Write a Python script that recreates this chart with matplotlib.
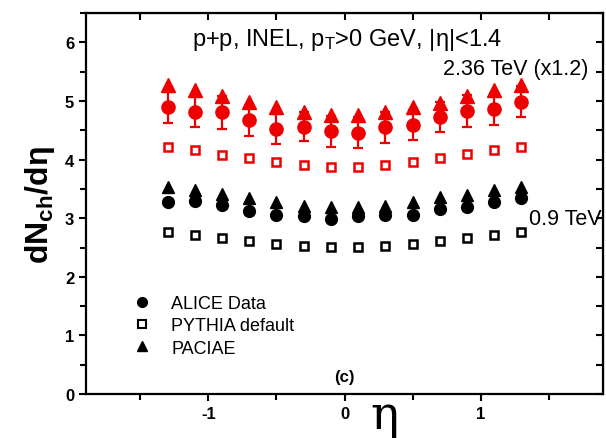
import matplotlib.pyplot as plt
import numpy as np

plt.rcParams['font.family'] = ['Liberation Sans', 'DejaVu Sans']
plt.rcParams['mathtext.default'] = 'regular'
plt.rcParams['axes.unicode_minus'] = False

# pseudorapidity bins
eta = [-1.3, -1.1, -0.9, -0.7, -0.5, -0.3, -0.1, 0.1, 0.3, 0.5, 0.7, 0.9, 1.1, 1.3]

# 2.36 TeV (scaled x1.2)
alice_236 = [4.89, 4.82, 4.81, 4.67, 4.52, 4.56, 4.48, 4.46, 4.55, 4.59, 4.73, 4.83, 4.86, 4.99]
alice_236_err = [0.26, 0.27, 0.28, 0.27, 0.25, 0.25, 0.26, 0.26, 0.26, 0.26, 0.26, 0.27, 0.27, 0.27]
pythia_236 = [4.22, 4.17, 4.08, 4.03, 3.96, 3.91, 3.87, 3.87, 3.91, 3.96, 4.03, 4.10, 4.17, 4.22]
paciae_236 = [5.27, 5.18, 5.09, 4.98, 4.89, 4.81, 4.76, 4.76, 4.82, 4.89, 4.96, 5.08, 5.19, 5.28]

# 0.9 TeV
alice_09 = [3.28, 3.29, 3.23, 3.12, 3.06, 3.03, 2.98, 3.04, 3.05, 3.06, 3.15, 3.20, 3.28, 3.34]
pythia_09 = [2.76, 2.71, 2.66, 2.62, 2.56, 2.53, 2.51, 2.51, 2.53, 2.56, 2.62, 2.66, 2.71, 2.76]
paciae_09 = [3.53, 3.49, 3.42, 3.35, 3.28, 3.21, 3.19, 3.19, 3.21, 3.27, 3.36, 3.40, 3.49, 3.54]

fig = plt.figure(figsize=(6.06, 4.39), dpi=100)
ax = fig.add_axes([0.142, 0.100, 0.853, 0.868])

red = '#ee0000'
# PYTHIA default (open squares)
ax.plot(eta, pythia_236, 's', ls='none', ms=6, mfc='white', mec=red, mew=1.8)
ax.plot(eta, pythia_09, 's', ls='none', ms=6, mfc='white', mec='black', mew=1.8)
# ALICE data
ax.errorbar(eta, alice_236, yerr=alice_236_err, fmt='o', ms=9.5, color=red,
            ecolor=red, elinewidth=1.6, capsize=3.5, capthick=1.6)
ax.plot(eta, alice_09, 'o', ls='none', ms=8.5, color='black')
# PACIAE
ax.plot(eta, paciae_236, '^', ls='none', ms=9.5, color=red)
ax.plot(eta, paciae_09, '^', ls='none', ms=8.5, color='black')

# legend (black symbols)
h1, = ax.plot([], [], 'o', ls='none', ms=7, color='black')
h2, = ax.plot([], [], 's', ls='none', ms=5.5, mfc='white', mec='black', mew=1.5)
h3, = ax.plot([], [], '^', ls='none', ms=7, color='black')
ax.legend([h1, h2, h3], ['ALICE Data', 'PYTHIA default', 'PACIAE'],
          loc='upper left', bbox_to_anchor=(0.06, 0.303), frameon=False,
          fontsize=13, handlelength=1.0, handletextpad=1.1, labelspacing=0.3)

ax.set_xlim(-1.9, 1.9)
ax.set_ylim(0, 6.5)
ax.set_xticks([-1, 0, 1])
ax.set_xticks([-1.5, -0.5, 0.5, 1.5], minor=True)
ax.set_yticks(range(7))
ax.set_yticks(np.arange(0.5, 6.6, 1.0), minor=True)
ax.tick_params(which='both', direction='out', width=1.5, labelsize=12)
ax.tick_params(which='major', length=5)
ax.tick_params(which='minor', length=4)
for lab in ax.get_xticklabels() + ax.get_yticklabels():
    lab.set_fontweight('bold')
for sp in ax.spines.values():
    sp.set_linewidth(1.6)

# inward ticks on the top and right
axt = ax.secondary_xaxis('top')
axt.set_xticks(np.arange(-1.5, 1.6, 0.5))
axt.tick_params(direction='in', length=5, width=1.5, labeltop=False)
axr = ax.secondary_yaxis('right')
axr.set_yticks(np.arange(0, 6.6, 0.5))
axr.tick_params(direction='in', length=5, width=1.5, labelright=False)

ax.text(0.02, 6.05, 'p+p, INEL, p$_T$>0 GeV, |η|<1.4',
        ha='center', va='center', fontsize=17)
ax.text(1.79, 5.55, '2.36 TeV (x1.2)', ha='right', va='center', fontsize=15.5)
ax.text(1.89, 3.0, '0.9 TeV', ha='right', va='center', fontsize=15.5)
ax.text(0.0, 0.3, '(c)', ha='center', va='center', fontsize=12, fontweight='bold')

ax.set_ylabel('dN$_{ch}$/dη', fontsize=23, fontweight='bold', labelpad=6)
fig.text(0.635, 0.052, 'η', fontsize=34, ha='center', va='center',
         family='DejaVu Serif')

fig.savefig('out.png', dpi=100)
